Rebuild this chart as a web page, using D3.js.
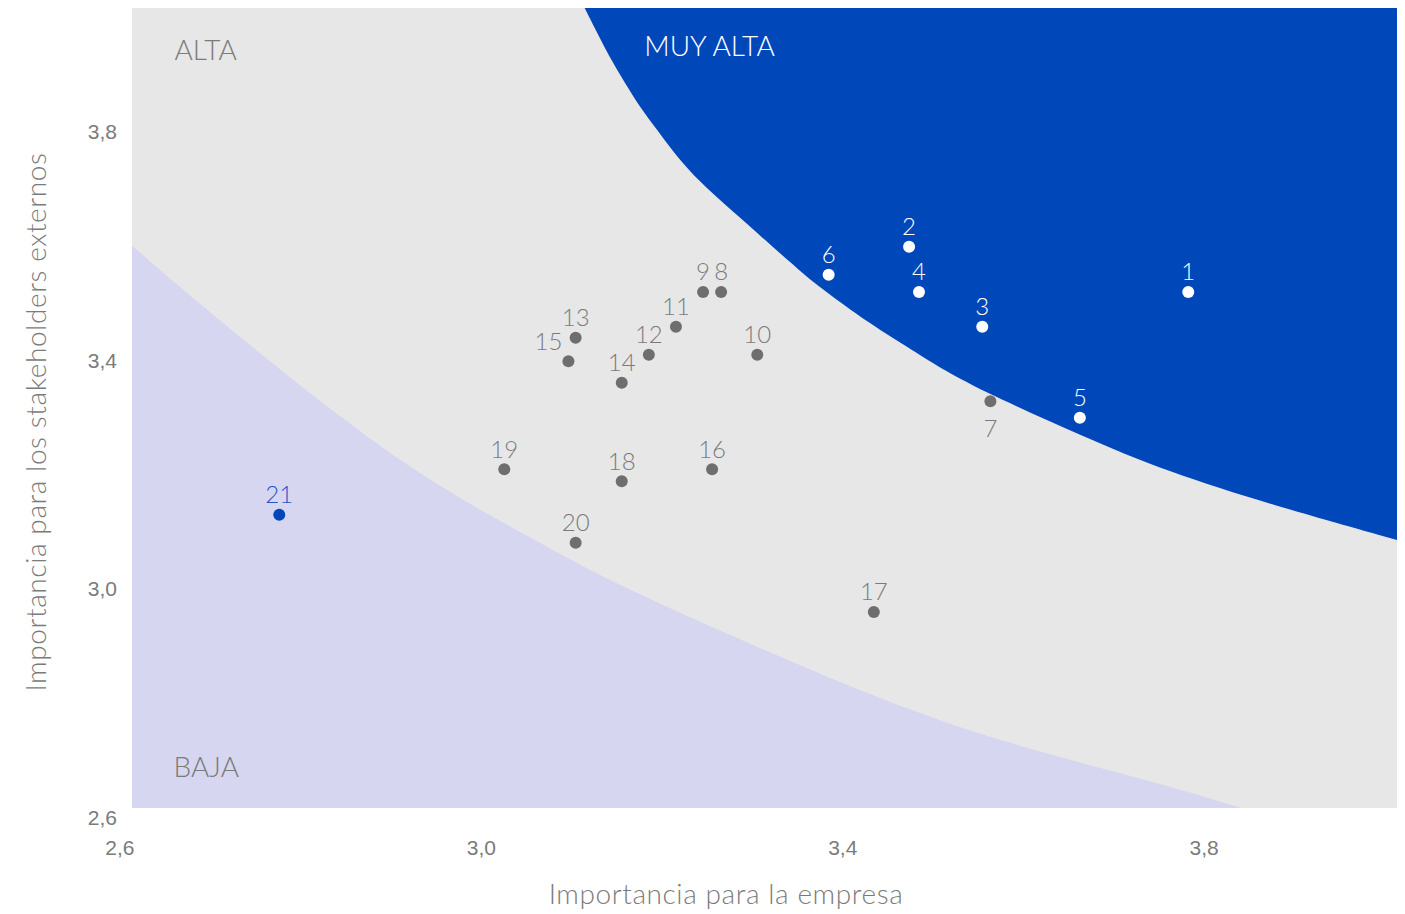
<!DOCTYPE html>
<html>
<head>
<meta charset="utf-8">
<script src="https://cdn.jsdelivr.net/npm/d3@7"></script>
<style>
  body { margin: 0; background: #fff; }
  svg { display: block; font-family: "Lato", "Open Sans", sans-serif; font-weight: 300; }
</style>
</head>
<body>
<svg width="1405" height="914"></svg>
<script>
// --- data ---
const ids = ["1","2","3","4","5","6","7","8","9","10","11","12","13","14","15","16","17","18","19","20","21"];
const empresa = [3.769, 3.460, 3.541, 3.471, 3.649, 3.371, 3.550, 3.252, 3.232, 3.292, 3.202, 3.172, 3.091, 3.142, 3.083, 3.242, 3.421, 3.142, 3.012, 3.091, 2.763];
const stakeholders = [3.503, 3.582, 3.442, 3.503, 3.283, 3.533, 3.312, 3.503, 3.503, 3.393, 3.442, 3.393, 3.423, 3.344, 3.382, 3.193, 2.943, 3.172, 3.193, 3.064, 3.113];
const group = ["muy","muy","muy","muy","muy","muy","alta","alta","alta","alta","alta","alta","alta","alta","alta","alta","alta","alta","alta","alta","baja"];

const xTicks = [2.6, 3.0, 3.4, 3.8];
const yTicks = [2.6, 3.0, 3.4, 3.8];

// edge of the "MUY ALTA" zone
const muyAltaEdgeX = [3.101, 3.115, 3.132, 3.151, 3.162, 3.181, 3.199, 3.218, 3.236, 3.254, 3.273, 3.292, 3.309, 3.328, 3.347, 3.370, 3.420, 3.458, 3.494, 3.550, 3.649, 3.746, 3.863, 4.0];
const muyAltaEdgeY = [4.0, 3.956, 3.904, 3.855, 3.827, 3.787, 3.748, 3.713, 3.685, 3.659, 3.633, 3.606, 3.582, 3.556, 3.529, 3.501, 3.444, 3.407, 3.370, 3.323, 3.253, 3.188, 3.130, 3.069];
// edge of the "BAJA" zone
const bajaEdgeX = [2.600, 2.675, 2.731, 2.786, 2.875, 2.930, 2.985, 3.041, 3.096, 3.151, 3.207, 3.305, 3.398, 3.491, 3.585, 3.678, 3.771, 3.827];
const bajaEdgeY = [3.584, 3.482, 3.410, 3.339, 3.232, 3.174, 3.122, 3.073, 3.025, 2.982, 2.941, 2.873, 2.810, 2.754, 2.707, 2.667, 2.628, 2.600];

// --- layout ---
const svg = d3.select("svg");
const margin = { left: 132, right: 8, top: 8, bottom: 106 };
const width = +svg.attr("width");
const height = +svg.attr("height");

const x = d3.scaleLinear().domain([2.6, 4.0]).range([margin.left, width - margin.right]);
const y = d3.scaleLinear().domain([2.6, 4.0]).range([height - margin.bottom, margin.top]);

const fmt = d => d3.format(".1f")(d).replace(".", ",");

const colors = {
  bg: "#e7e7e7",
  muy: "#0048ba",
  baja: "#d6d6f1",
  dotGrey: "#6e6e6e",
  text: "#7b7b7b"
};

svg.append("defs").append("clipPath").attr("id", "plot")
  .append("rect")
  .attr("x", x(2.6)).attr("y", y(4.0))
  .attr("width", x(4.0) - x(2.6)).attr("height", y(2.6) - y(4.0));

const zones = svg.append("g").attr("clip-path", "url(#plot)");

zones.append("rect")
  .attr("x", x(2.6)).attr("y", y(4.0))
  .attr("width", x(4.0) - x(2.6)).attr("height", y(2.6) - y(4.0))
  .attr("fill", colors.bg);

const edge = d3.line().x(d => x(d[0])).y(d => y(d[1])).curve(d3.curveBasis);

zones.append("path")
  .attr("d", edge(d3.zip(muyAltaEdgeX, muyAltaEdgeY)) + `L${x(4.0)},${y(4.0)}Z`)
  .attr("fill", colors.muy);

zones.append("path")
  .attr("d", edge(d3.zip(bajaEdgeX, bajaEdgeY)) + `L${x(2.6)},${y(2.6)}Z`)
  .attr("fill", colors.baja);

// zone names
const zoneLabels = [
  { text: "ALTA", x: 2.647, y: 3.909, fill: colors.text },
  { text: "MUY ALTA", x: 3.167, y: 3.916, fill: "#ffffff" },
  { text: "BAJA", x: 2.646, y: 2.654, fill: colors.text }
];
svg.append("g").selectAll("text")
  .data(zoneLabels)
  .join("text")
  .attr("x", d => x(d.x))
  .attr("y", d => y(d.y))
  .attr("font-size", 28)
  .attr("fill", d => d.fill)
  .text(d => d.text);

// axes
const xAxis = svg.append("g")
  .attr("transform", `translate(0,${y(2.6)})`)
  .call(d3.axisBottom(x).tickValues(xTicks).tickFormat(fmt).tickSize(0));
xAxis.select(".domain").remove();
xAxis.selectAll("text")
  .attr("y", 40).attr("dy", "0.35em").attr("x", 2)
  .attr("text-anchor", "end")
  .attr("font-size", 21).attr("font-family", null)
  .attr("fill", colors.text);

const yAxis = svg.append("g")
  .attr("transform", `translate(${x(2.6)},0)`)
  .call(d3.axisLeft(y).tickValues(yTicks).tickFormat(fmt).tickSize(0));
yAxis.select(".domain").remove();
yAxis.selectAll("text")
  .attr("x", -15).attr("y", 9).attr("dy", "0.35em")
  .attr("text-anchor", "end")
  .attr("font-size", 21).attr("font-family", null)
  .attr("fill", colors.text);

svg.append("text")
  .attr("x", 726).attr("y", 894).attr("dy", "0.35em")
  .attr("text-anchor", "middle")
  .attr("font-size", 28)
  .attr("letter-spacing", 0.6)
  .attr("fill", colors.text)
  .text("Importancia para la empresa");

svg.append("text")
  .attr("transform", `translate(36,422) rotate(-90)`)
  .attr("dy", "0.35em")
  .attr("text-anchor", "middle")
  .attr("font-size", 28)
  .attr("letter-spacing", 0.6)
  .attr("fill", colors.text)
  .text("Importancia para los stakeholders externos");

// points
const points = ids.map((id, i) => ({ id, ex: empresa[i], st: stakeholders[i], g: group[i] }));
const dotFill = { muy: "#ffffff", alta: colors.dotGrey, baja: colors.muy };
const labelFill = { muy: "#ffffff", alta: colors.text, baja: "#1d58c9" };
// labels sit above the dot except these
const labelPlace = { "7": "below", "15": "left" };

const pts = svg.append("g");
pts.selectAll("circle")
  .data(points)
  .join("circle")
  .attr("cx", d => x(d.ex))
  .attr("cy", d => y(d.st))
  .attr("r", 6)
  .attr("fill", d => dotFill[d.g]);

pts.selectAll("text")
  .data(points)
  .join("text")
  .attr("x", d => x(d.ex) + (labelPlace[d.id] === "left" ? -20 : 0))
  .attr("y", d => y(d.st) + (labelPlace[d.id] === "below" ? 27 : -20))
  .attr("dy", "0.35em")
  .attr("text-anchor", "middle")
  .attr("font-size", 24)
  .attr("fill", d => labelFill[d.g])
  .text(d => d.id);
</script>
</body>
</html>
